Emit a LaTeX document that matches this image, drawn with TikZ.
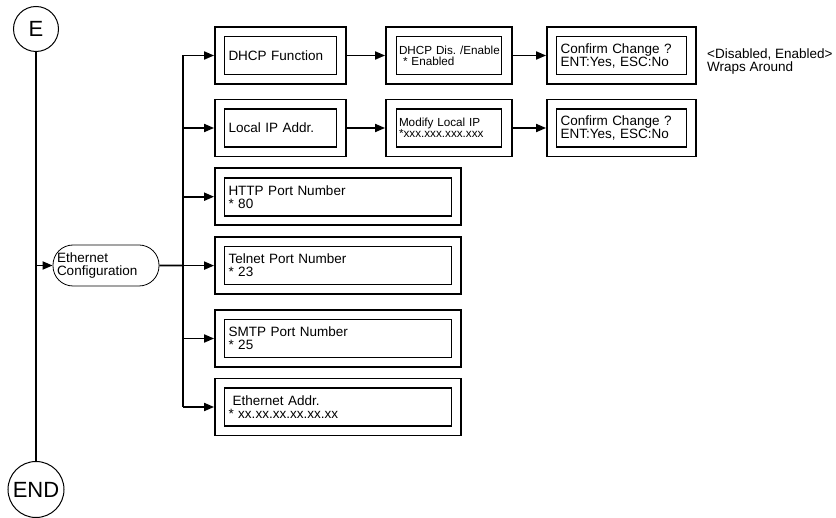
\documentclass[tikz,border=0pt]{standalone}
\usepackage{fontspec}
\setmainfont{Liberation Sans}
\usetikzlibrary{arrows.meta}
\frenchspacing
\begin{document}
\begin{tikzpicture}[x=1pt,y=-1pt,
  outerbox/.style={draw,line width=1.8pt,inner sep=0pt,minimum height=57pt},
  innerbox/.style={draw,line width=1.8pt,inner xsep=4pt,inner ysep=0pt,minimum height=38pt,align=left,font=\fontsize{13.5}{13}\selectfont},
  smalltext/.style={inner xsep=2.5pt,font=\fontsize{11.7}{11}\selectfont},
  conn/.style={line width=1.8pt,-{Triangle[length=10pt,width=8pt]}},
  bus/.style={line width=1.8pt},
  endpt/.style={circle,draw,line width=1pt,inner sep=0pt,font=\fontsize{22}{22}\selectfont},
  menu/.style={draw,rounded corners=20pt,line width=0.8pt,minimum width=106pt,minimum height=41pt,inner sep=0pt,font=\fontsize{13.5}{12.5}\selectfont},
  note/.style={anchor=north west,inner sep=0pt,align=left,font=\fontsize{13.5}{12.5}\selectfont}
]
\useasboundingbox (0,0) rectangle (836,518);

% start / end
\node[endpt,minimum size=45pt] (E) at (36,29) {E};
\node[endpt,minimum size=56pt] (END) at (36,489.5) {END};
\draw[line width=1.3pt] (E.south) -- (END.north);

% menu node
\node[menu] (eth) at (106,265.5) {\parbox{98pt}{Ethernet\\Configuration}};
\coordinate (mj) at (E.south |- eth.west);
\draw[conn] (mj) -- (eth.west);

% bus
\coordinate (bj) at (183,265.6);
\coordinate (btop) at (183,55.5);
\coordinate (bbot) at (183,407);
\draw[bus] (eth.east) -- (bj);
\draw[bus] (btop) -- (bbot);

% column 1
\node[outerbox,minimum width=131pt] (dhcpO) at (280.5,55.5) {};
\node[innerbox,text width=104pt] (dhcpI) at (dhcpO.center) {DHCP Function};
\node[outerbox,minimum width=131pt] (lipO) at (280.5,128) {};
\node[innerbox,text width=104pt] (lipI) at (lipO.center) {Local IP Addr.};
\node[outerbox,minimum width=246pt] (httpO) at (338,196.7) {};
\node[innerbox,text width=219pt] (httpI) at (httpO.center) {HTTP Port Number\\{}* 80};
\node[outerbox,minimum width=246pt] (telO) at (338,265.6) {};
\node[innerbox,text width=219pt] (telI) at (telO.center) {Telnet Port Number\\{}* 23};
\node[outerbox,minimum width=246pt] (smtpO) at (338,338.5) {};
\node[innerbox,text width=219pt] (smtpI) at (smtpO.center) {SMTP Port Number\\{}* 25};
\node[outerbox,minimum width=246pt] (eaO) at (338,407) {};
\node[innerbox,text width=219pt] (eaI) at (eaO.center) {\hspace*{4pt}Ethernet Addr.\\{}* xx.xx.xx.xx.xx.xx};

% column 2
\node[outerbox,minimum width=126pt] (disO) at (449,55.5) {};
\node[innerbox,smalltext,text width=100pt] (disI) at (disO.center) {\mbox{DHCP Dis. /Enable}\\{}\hspace*{4pt}* Enabled};
\node[outerbox,minimum width=126pt] (modO) at (449,128) {};
\node[innerbox,smalltext,text width=100pt] (modI) at (modO.center) {Modify Local IP\\{}*xxx.xxx.xxx.xxx};

% column 3
\node[outerbox,minimum width=149pt] (cf1O) at (621.5,55.5) {};
\node[innerbox,text width=122pt] (cf1I) at (cf1O.center) {Confirm Change ?\\ENT:Yes, ESC:No};
\node[outerbox,minimum width=149pt] (cf2O) at (621.5,128) {};
\node[innerbox,text width=122pt] (cf2I) at (cf2O.center) {Confirm Change ?\\ENT:Yes, ESC:No};

\node[note] (wrap) at (707,49) {<Disabled, Enabled>\\Wraps Around};

% branches
\draw[conn] (btop) -- (dhcpO.west);
\draw[conn] (bj |- lipO.west) -- (lipO.west);
\draw[conn] (bj |- httpO.west) -- (httpO.west);
\draw[conn] (bj) -- (telO.west);
\draw[conn] (bj |- smtpO.west) -- (smtpO.west);
\draw[conn] (bbot) -- (eaO.west);

% row links
\draw[conn] (dhcpO.east) -- (disO.west);
\draw[conn] (disO.east) -- (cf1O.west);
\draw[conn] (lipO.east) -- (modO.west);
\draw[conn] (modO.east) -- (cf2O.west);
\end{tikzpicture}
\end{document}
